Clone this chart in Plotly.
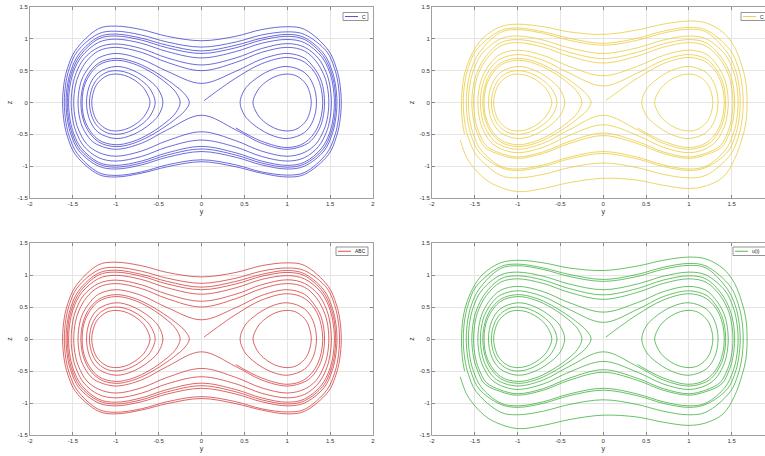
import plotly.graph_objects as go

# ---------------- data ----------------
# interior abscissa samples of the orbits that encircle both wells
Y_SAMPLES = [-1.2, -1.0, -0.7, -0.4, 0.0, 0.4, 0.7, 1.0, 1.2]
# distances from each orbit's turning point at which END values are read
END_DY = [0.15, 0.06, 0.02]

# outer orbits, left-column panels (blue / red)
LEFT_TOP = [
    [1.16, 1.20, 1.145, 1.04, 0.97, 1.04, 1.145, 1.19, 1.15],
    [1.08, 1.12, 1.06, 0.95, 0.87, 0.95, 1.06, 1.11, 1.07],
    [1.03, 1.075, 1.01, 0.90, 0.81, 0.90, 1.01, 1.07, 1.02],
    [1.00, 1.045, 0.98, 0.86, 0.77, 0.86, 0.98, 1.04, 0.99],
    [0.945, 0.995, 0.93, 0.80, 0.70, 0.80, 0.93, 0.99, 0.94],
    [0.867, 0.92, 0.847, 0.70, 0.59, 0.70, 0.847, 0.925, 0.87],
    [0.81, 0.866, 0.787, 0.63, 0.50, 0.63, 0.787, 0.866, 0.81],
    [0.70, 0.77, 0.68, 0.49, 0.30, 0.49, 0.68, 0.77, 0.70],
]
LEFT_BOTTOM = [
    [-1.13, -1.17, -1.11, -1.01, -0.93, -1.01, -1.11, -1.17, -1.13],
    [-1.10, -1.145, -1.09, -0.98, -0.90, -0.98, -1.09, -1.14, -1.10],
    [-1.00, -1.045, -0.98, -0.86, -0.77, -0.86, -0.98, -1.045, -1.00],
    [-0.967, -1.016, -0.95, -0.825, -0.73, -0.825, -0.95, -1.016, -0.967],
    [-0.94, -0.988, -0.92, -0.79, -0.69, -0.79, -0.92, -0.988, -0.938],
    [-0.867, -0.92, -0.847, -0.70, -0.59, -0.70, -0.847, -0.92, -0.867],
    [-0.784, -0.844, -0.763, -0.60, -0.46, -0.60, -0.763, -0.844, -0.784],
    [-0.67, -0.735, -0.64, -0.43, -0.20, -0.43, -0.64, -0.735, -0.67],
]
LEFT_END = [
    [0.82, 0.55, 0.33], [0.80, 0.54, 0.32], [0.76, 0.51, 0.30], [0.74, 0.50, 0.30],
    [0.72, 0.49, 0.29], [0.69, 0.47, 0.28], [0.65, 0.44, 0.27], [0.59, 0.41, 0.25],
]
LEFT_YMIN = [-1.62, -1.60, -1.58, -1.565, -1.55, -1.52, -1.49, -1.44]
LEFT_YMAX = [1.63, 1.61, 1.58, 1.565, 1.55, 1.515, 1.485, 1.435]

# outer orbits, right-column panels (yellow / green)
RIGHT_TOP = [
    [1.13, 1.17, 1.11, 1.01, 0.93, 1.01, 1.12, 1.18, 1.14],
    [1.10, 1.145, 1.086, 0.978, 0.90, 0.978, 1.09, 1.15, 1.11],
    [1.00, 1.045, 0.98, 0.86, 0.77, 0.86, 0.98, 1.045, 1.00],
    [0.938, 0.988, 0.92, 0.789, 0.69, 0.789, 0.92, 0.988, 0.938],
    [0.887, 0.94, 0.868, 0.729, 0.62, 0.729, 0.868, 0.94, 0.887],
    [0.761, 0.822, 0.739, 0.569, 0.42, 0.569, 0.739, 0.822, 0.761],
    [0.686, 0.753, 0.662, 0.463, 0.26, 0.463, 0.662, 0.753, 0.686],
]
RIGHT_BOTTOM = [
    [-1.143, -1.184, -1.128, -1.024, -0.95, -1.024, -1.128, -1.184, -1.143],
    [-1.021, -1.068, -1.005, -0.887, -0.80, -0.887, -1.005, -1.068, -1.021],
    [-1.00, -1.045, -0.98, -0.86, -0.77, -0.86, -0.98, -1.045, -1.00],
    [-0.821, -0.878, -0.80, -0.646, -0.52, -0.646, -0.80, -0.878, -0.821],
    [-0.796, -0.855, -0.775, -0.614, -0.48, -0.614, -0.775, -0.855, -0.796],
    [-0.725, -0.789, -0.702, -0.519, -0.35, -0.519, -0.702, -0.789, -0.725],
    [-0.67, -0.735, -0.64, -0.43, -0.20, -0.43, -0.64, -0.735, -0.67],
]
RIGHT_END = [
    [0.82, 0.55, 0.33], [0.78, 0.53, 0.31], [0.75, 0.505, 0.30], [0.70, 0.47, 0.28],
    [0.68, 0.46, 0.275], [0.62, 0.425, 0.255], [0.59, 0.405, 0.245],
]
RIGHT_YMIN = [-1.635, -1.60, -1.575, -1.535, -1.515, -1.465, -1.435]
RIGHT_YMAX = [1.635, 1.60, 1.575, 1.535, 1.515, 1.46, 1.43]

# outermost (open) orbit of the right-column panels, with its loose end
TAIL_Y = [-1.67, -1.60, -1.52, -1.40, -1.26, -1.0, -0.7, -0.4, 0.0, 0.4, 0.7, 1.0, 1.2, 1.4,
          1.53, 1.62, 1.665, 1.68, 1.665, 1.62, 1.53, 1.4, 1.2, 1.0, 0.7, 0.4, 0.0, -0.4, -0.7,
          -1.0, -1.2, -1.4, -1.52, -1.605, -1.64, -1.655, -1.645, -1.62]
TAIL_Z = [-0.59, -0.85, -1.01, -1.18, -1.30, -1.40, -1.35, -1.26, -1.19, -1.22, -1.30, -1.35, -1.31, -1.17,
          -0.90, -0.57, -0.32, 0.0, 0.32, 0.57, 0.88, 1.10, 1.25, 1.28, 1.23, 1.14, 1.07, 1.11, 1.19,
          1.23, 1.19, 1.02, 0.80, 0.52, 0.30, 0.0, -0.30, -0.50]

# loops around the two wells and the orbit leaving the saddle (shared by all panels)
WELL_Y = [
    [-0.60, -0.65, -0.70, -0.80, -0.90, -1.00, -1.10, -1.20, -1.25, -1.28, -1.25, -1.20, -1.10, -1.00, -0.90, -0.80, -0.70, -0.65, -0.60],
    [-0.54, -0.60, -0.70, -0.80, -0.90, -1.00, -1.10, -1.20, -1.27, -1.307, -1.27, -1.20, -1.10, -1.00, -0.90, -0.80, -0.70, -0.60, -0.54],
    [-0.45, -0.50, -0.60, -0.80, -1.00, -1.20, -1.30, -1.341, -1.30, -1.20, -1.00, -0.80, -0.60, -0.50, -0.45],
    [-0.249, -0.30, -0.40, -0.60, -0.80, -1.00, -1.20, -1.35, -1.392, -1.35, -1.20, -1.00, -0.80, -0.60, -0.40, -0.30, -0.249],
    [-0.142, -0.20, -0.30, -0.40, -0.60, -0.80, -1.00, -1.20, -1.35, -1.407, -1.35, -1.20, -1.00, -0.80, -0.60, -0.40, -0.30, -0.20, -0.142],
    [0.60, 0.65, 0.70, 0.80, 0.90, 1.00, 1.10, 1.20, 1.25, 1.28, 1.25, 1.20, 1.10, 1.00, 0.90, 0.80, 0.70, 0.65, 0.60],
    [0.45, 0.50, 0.60, 0.80, 1.00, 1.20, 1.30, 1.341, 1.30, 1.20, 1.00, 0.80, 0.60, 0.50, 0.45],
    [0.03, 0.10, 0.20, 0.40, 0.70, 1.00, 1.20, 1.35, 1.414, 1.35, 1.20, 1.00, 0.70, 0.40],
]
WELL_Z = [
    [0.0, 0.18, 0.265, 0.367, 0.427, 0.447, 0.422, 0.321, 0.205, 0.0, -0.205, -0.321, -0.422, -0.447, -0.427, -0.367, -0.265, -0.18, 0.0],
    [0.0, 0.212, 0.346, 0.430, 0.482, 0.50, 0.477, 0.391, 0.249, 0.0, -0.249, -0.391, -0.477, -0.50, -0.482, -0.430, -0.346, -0.212, 0.0],
    [0.0, 0.197, 0.339, 0.505, 0.566, 0.472, 0.286, 0.0, -0.286, -0.472, -0.566, -0.505, -0.339, -0.197, 0.0],
    [0.0, 0.161, 0.295, 0.485, 0.612, 0.663, 0.586, 0.319, 0.0, -0.319, -0.586, -0.663, -0.612, -0.485, -0.295, -0.161, 0.0],
    [0.0, 0.139, 0.257, 0.356, 0.524, 0.644, 0.693, 0.619, 0.376, 0.0, -0.376, -0.619, -0.693, -0.644, -0.524, -0.356, -0.257, -0.139, 0.0],
    [0.0, 0.18, 0.265, 0.367, 0.427, 0.447, 0.422, 0.321, 0.205, 0.0, -0.205, -0.321, -0.422, -0.447, -0.427, -0.367, -0.265, -0.18, 0.0],
    [0.0, 0.197, 0.339, 0.505, 0.566, 0.472, 0.286, 0.0, -0.286, -0.472, -0.566, -0.505, -0.339, -0.197, 0.0],
    [0.03, 0.10, 0.198, 0.383, 0.608, 0.707, 0.635, 0.402, 0.0, -0.402, -0.635, -0.707, -0.608, -0.40],
]

PANEL_NAMES = ["C", "C", "ABC", "u(t)"]
PANEL_COLORS = ["#2b2bcc", "#e8c424", "#cf2424", "#26a626"]
X_TICKS = [-2, -1.5, -1, -0.5, 0, 0.5, 1, 1.5, 2]
X_TICKTEXT = ["-2", "-1.5", "-1", "-0.5", "0", "0.5", "1", "1.5", "2"]
Z_TICKS = [-1.5, -1, -0.5, 0, 0.5, 1, 1.5]
Z_TICKTEXT = ["-1.5", "-1", "-0.5", "0", "0.5", "1", "1.5"]

# ---------------- layout geometry (window pixels) ----------------
W, H = 777, 456   # a bit wider than the 765 px window: the right column is cut off there
# (left, right, top, bottom)
PANELS = [
    (30, 373, 7, 198),
    (432, 774.5, 7, 198),
    (30, 373, 243, 435),
    (432, 774.5, 243, 435),
]
LEGEND_BOXES = [  # x0, x1, y0, y1 in window pixels
    (343, 368, 12.5, 20.5),
    (741, 776, 12.5, 20.5),
    (336, 368, 247, 255.5),
    (733, 776, 247, 255.5),
]


def px(x):
    return x / W


def py(y):
    return 1 - y / H


fig = go.Figure()
FONT = "Liberation Sans, Arial, sans-serif"


def add_curve(xs, zs, color, ax):
    fig.add_trace(go.Scatter(
        x=xs, y=zs, mode="lines",
        line=dict(color=color, width=0.7, shape="spline", smoothing=1.0),
        xaxis="x" + ax, yaxis="y" + ax, showlegend=False, hoverinfo="skip"))


def neg(vals):
    return [-v for v in vals]


for i, (l, r, t, b) in enumerate(PANELS):
    ax = "" if i == 0 else str(i + 1)
    color = PANEL_COLORS[i]
    right_col = i in (1, 3)
    if right_col:
        tops, bots, ends, ymins, ymaxs = RIGHT_TOP, RIGHT_BOTTOM, RIGHT_END, RIGHT_YMIN, RIGHT_YMAX
        add_curve(TAIL_Y, TAIL_Z, color, ax)
    else:
        tops, bots, ends, ymins, ymaxs = LEFT_TOP, LEFT_BOTTOM, LEFT_END, LEFT_YMIN, LEFT_YMAX
    for top, bot, end, y0, y1 in zip(tops, bots, ends, ymins, ymaxs):
        left_y = [y0 + d for d in END_DY[::-1]]      # y0+0.02, y0+0.06, y0+0.15
        right_y = [y1 - d for d in END_DY]           # y1-0.15, y1-0.06, y1-0.02
        # start at the top centre and go round clockwise back to it
        xs = (Y_SAMPLES[4:] + right_y + [y1] + right_y[::-1] + Y_SAMPLES[::-1]
              + left_y[::-1] + [y0] + left_y + Y_SAMPLES[:5])
        zs = (top[4:] + end + [0.0] + neg(end[::-1]) + bot[::-1]
              + neg(end) + [0.0] + end[::-1] + top[:5])
        add_curve(xs, zs, color, ax)
    for wy, wz in zip(WELL_Y, WELL_Z):
        add_curve(wy, wz, color, ax)

    # the right column is cut by the window edge before its last tick label
    xt = X_TICKS[:-1] if right_col else X_TICKS
    xtt = X_TICKTEXT[:-1] if right_col else X_TICKTEXT

    common = dict(showgrid=True, gridcolor="#e4e4e4", gridwidth=0.6, zeroline=False,
                  showline=True, linecolor="#a0a0a0", linewidth=0.8,
                  ticks="inside", ticklen=3, tickwidth=0.6, tickcolor="#888",
                  tickfont=dict(size=6, color="#333", family=FONT), automargin=False)
    xaxis = dict(common, domain=[px(l), px(r)], range=[-2, 2], tickvals=xt,
                 ticktext=xtt, mirror="ticks", anchor="y" + ax,
                 title=dict(text="y", font=dict(size=7, color="#333", family=FONT), standoff=3))
    yaxis = dict(common, domain=[py(b), py(t)], range=[-1.5, 1.5], tickvals=Z_TICKS,
                 ticktext=Z_TICKTEXT, mirror="ticks", anchor="x" + ax,
                 title=dict(text="z", font=dict(size=7, color="#333", family=FONT), standoff=4))
    fig.layout["xaxis" + ax] = xaxis
    fig.layout["yaxis" + ax] = yaxis

    # legend box (MATLAB style)
    x0, x1, y0, y1 = LEGEND_BOXES[i]
    fig.add_shape(type="rect", xref="paper", yref="paper",
                  x0=px(x0), x1=px(x1), y0=py(y1), y1=py(y0),
                  line=dict(color="#7a7a7a", width=0.8), fillcolor="white", layer="above")
    ym = py((y0 + y1) / 2)
    fig.add_shape(type="line", xref="paper", yref="paper",
                  x0=px(x0 + 2), x1=px(x0 + 15), y0=ym, y1=ym,
                  line=dict(color=color, width=0.8), layer="above")
    fig.add_annotation(text=PANEL_NAMES[i], xref="paper", yref="paper",
                       x=px(x0 + 16.5), y=ym, xanchor="left", yanchor="middle",
                       showarrow=False, font=dict(size=5, color="#222", family=FONT))

fig.update_layout(width=W, height=H, margin=dict(l=0, r=0, t=0, b=0),
                  plot_bgcolor="white", paper_bgcolor="white", showlegend=False)

# place the figure at the window's top-left corner (no default page margin)
fig.write_html("out.html", config={"displayModeBar": False},
               post_script="document.body.style.margin='0px';")
